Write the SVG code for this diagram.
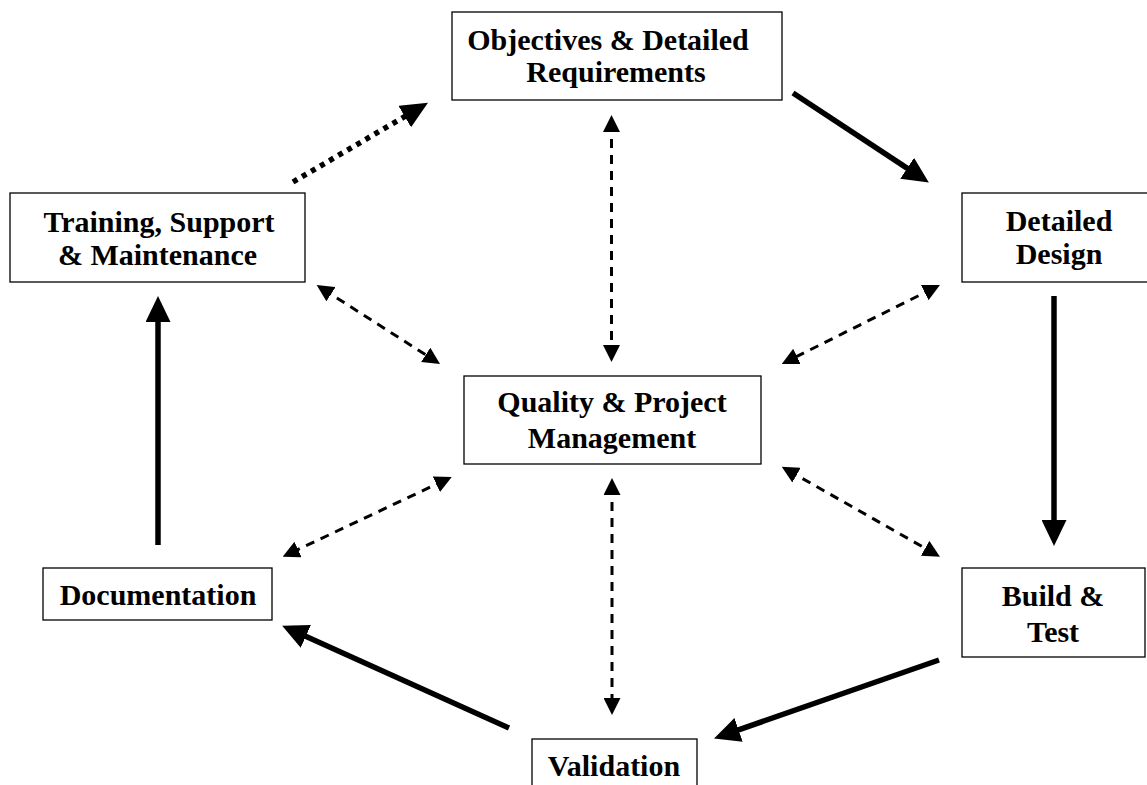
<svg xmlns="http://www.w3.org/2000/svg" width="1147" height="785" viewBox="0 0 1147 785">
  <style>
    .box { fill: #ffffff; stroke: #000000; stroke-width: 1.3; }
    .label { font-family: "Liberation Serif", "Times New Roman", serif; font-weight: bold; font-size: 30px; fill: #000000; text-anchor: middle; }
    .flow { stroke: #000000; stroke-width: 5.5; fill: none; }
    .dotted { stroke: #000000; stroke-width: 5.5; fill: none; stroke-dasharray: 5 5.5; }
    .link { stroke: #000000; stroke-width: 3; fill: none; stroke-dasharray: 9 7; }
  </style>
  <defs>
    <marker id="headBig" markerUnits="userSpaceOnUse" markerWidth="26" markerHeight="25" viewBox="0 0 26 25" refX="13" refY="12.5" orient="auto">
      <path d="M0,0 L26,12.5 L0,25 z" fill="#000000"/>
    </marker>
    <marker id="headDot" markerUnits="userSpaceOnUse" markerWidth="27" markerHeight="25" viewBox="0 0 27 25" refX="5" refY="12.5" orient="auto">
      <path d="M0,0 L27,12.5 L0,25 z" fill="#000000"/>
    </marker>
    <marker id="headSmall" markerUnits="userSpaceOnUse" markerWidth="17" markerHeight="17" viewBox="0 0 17 17" refX="9" refY="8.5" orient="auto-start-reverse">
      <path d="M0,0 L17,8.5 L0,17 z" fill="#000000"/>
    </marker>
  </defs>

  <rect width="1147" height="785" fill="#ffffff"/>

  <!-- connectors -->
  <g id="connectors">
    <!-- main cycle -->
    <line class="flow" x1="793" y1="93" x2="918" y2="175.4" marker-end="url(#headBig)"/>
    <line class="flow" x1="1054" y1="296" x2="1054" y2="533" marker-end="url(#headBig)"/>
    <line class="flow" x1="939" y1="660" x2="726.3" y2="734.1" marker-end="url(#headBig)"/>
    <line class="flow" x1="509" y1="728" x2="294" y2="631" marker-end="url(#headBig)"/>
    <line class="flow" x1="158" y1="545" x2="158" y2="309" marker-end="url(#headBig)"/>
    <line class="dotted" x1="293" y1="182" x2="409" y2="114" marker-end="url(#headDot)"/>
    <!-- links to the hub -->
    <line class="link" x1="611.5" y1="123" x2="611.5" y2="354" marker-start="url(#headSmall)" marker-end="url(#headSmall)"/>
    <line class="link" x1="612" y1="486" x2="612" y2="707" marker-start="url(#headSmall)" marker-end="url(#headSmall)"/>
    <line class="link" x1="323.4" y1="289.3" x2="433.3" y2="359.7" marker-start="url(#headSmall)" marker-end="url(#headSmall)"/>
    <line class="link" x1="932.8" y1="288.6" x2="788.9" y2="360.4" marker-start="url(#headSmall)" marker-end="url(#headSmall)"/>
    <line class="link" x1="444.5" y1="480.4" x2="289.9" y2="553.3" marker-start="url(#headSmall)" marker-end="url(#headSmall)"/>
    <line class="link" x1="788.7" y1="470.7" x2="933" y2="552.7" marker-start="url(#headSmall)" marker-end="url(#headSmall)"/>
  </g>

  <g id="objectives">
    <rect class="box" x="452" y="12" width="330" height="88"/>
    <text class="label" x="608" y="50">Objectives &amp; Detailed</text>
    <text class="label" x="616" y="82">Requirements</text>
  </g>

  <g id="detailed-design">
    <rect class="box" x="962" y="193" width="190" height="89"/>
    <text class="label" x="1059" y="231">Detailed</text>
    <text class="label" x="1059" y="264">Design</text>
  </g>

  <g id="build-test">
    <rect class="box" x="962" y="568" width="183" height="89"/>
    <text class="label" x="1053" y="606">Build &amp;</text>
    <text class="label" x="1053" y="642">Test</text>
  </g>

  <g id="validation">
    <rect class="box" x="532" y="739" width="165" height="60"/>
    <text class="label" x="614" y="776">Validation</text>
  </g>

  <g id="documentation">
    <rect class="box" x="43" y="568" width="229" height="52"/>
    <text class="label" x="158" y="605">Documentation</text>
  </g>

  <g id="training">
    <rect class="box" x="10" y="193" width="295" height="89"/>
    <text class="label" x="159" y="232">Training, Support</text>
    <text class="label" x="157.5" y="265">&amp; Maintenance</text>
  </g>

  <g id="quality">
    <rect class="box" x="464" y="376" width="297" height="88"/>
    <text class="label" x="612" y="412">Quality &amp; Project</text>
    <text class="label" x="612" y="448">Management</text>
  </g>
</svg>
